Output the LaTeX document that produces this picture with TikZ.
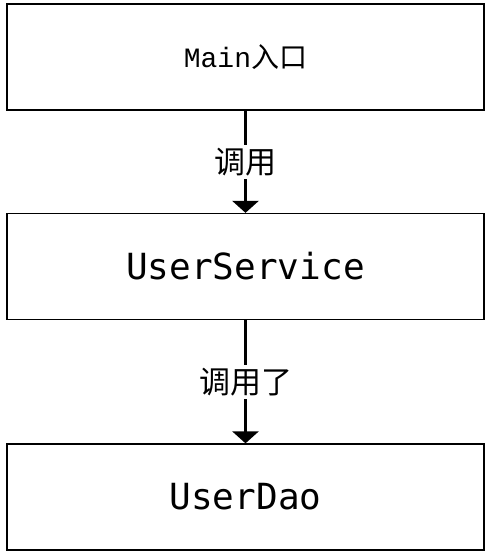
\documentclass[tikz,border=0pt]{standalone}
\usepackage{fontspec}
\setmonofont{DejaVu Sans Mono}
\newfontfamily\cjk{Noto Sans CJK SC}
\newfontfamily\codefont{Liberation Mono}
\usetikzlibrary{arrows.meta,positioning}

\begin{document}
\begin{tikzpicture}[x=1pt,y=1pt,
  box/.style={draw=black,line width=1.3pt,minimum width=477pt,minimum height=106pt,inner sep=0pt},
  call/.style={line width=3.5pt,-{Triangle[width=26pt,length=12pt]}},
  calllabel/.style={fill=white,inner sep=3pt,font=\fontsize{31}{33}\selectfont\cjk}]
  \useasboundingbox (0,0) rectangle (490,558);

  \node[box,font=\fontsize{28}{30}\selectfont] (main) at (245.5,501) {{\codefont Main}{\cjk 入口}};
  \node[box,font=\fontsize{36}{38}\selectfont\ttfamily] (service) at (245.5,291.5) {UserService};
  \node[box,font=\fontsize{36}{38}\selectfont\ttfamily] (dao) at (245.5,61) {UserDao};

  \draw[call] (main) -- node[calllabel] {调用} (service);
  \draw[call] (service) -- node[calllabel] {调用了} (dao);
\end{tikzpicture}
\end{document}
